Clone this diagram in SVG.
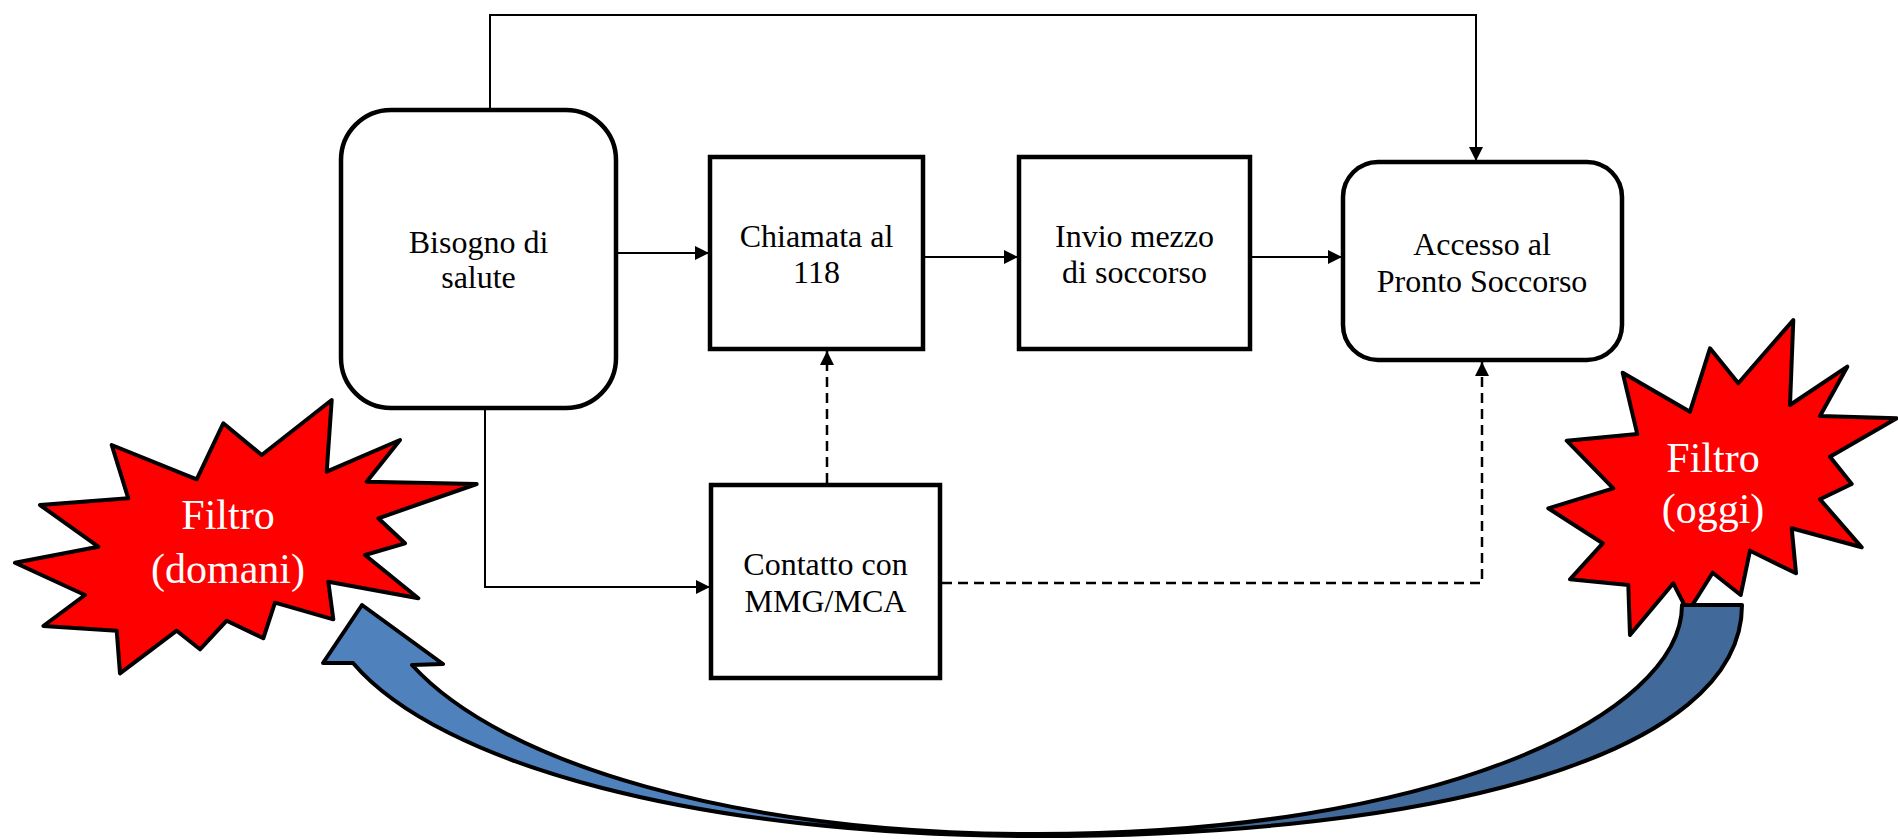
<svg xmlns="http://www.w3.org/2000/svg" width="1898" height="839" viewBox="0 0 1898 839">
  <style>
    .box { fill: #ffffff; stroke: #000000; stroke-width: 4.5; }
    .lbl { font-family: "Liberation Serif", "Times New Roman", serif; font-size: 32px; fill: #000000; text-anchor: middle; }
    .burst { fill: #ff0000; stroke: #000000; stroke-width: 4; stroke-linejoin: round; }
    .burst-lbl { font-family: "Liberation Serif", "Times New Roman", serif; font-size: 42px; fill: #ffffff; text-anchor: middle; }
    .link { fill: none; stroke: #000000; stroke-width: 2; }
    .dash { stroke-dasharray: 10 6; stroke-width: 2.5; }
  </style>
  <defs>
    <marker id="arrow" markerUnits="userSpaceOnUse" markerWidth="14" markerHeight="14" refX="14" refY="7" orient="auto">
      <path d="M0,0 L14,7 L0,14 Z" fill="#000000"/>
    </marker>
    <linearGradient id="ribbon" gradientUnits="userSpaceOnUse" x1="0" y1="0" x2="1898" y2="0">
      <stop offset="0" stop-color="#4f81bd"/>
      <stop offset="0.5464" stop-color="#4f81bd"/>
      <stop offset="0.5464" stop-color="#41699a"/>
      <stop offset="1" stop-color="#41699a"/>
    </linearGradient>
  </defs>

  <rect width="1898" height="839" fill="#ffffff"/>

  <!-- connectors -->
  <g id="connectors">
    <path class="link" d="M618 253 H709" marker-end="url(#arrow)"/>
    <path class="link" d="M925 257 H1018" marker-end="url(#arrow)"/>
    <path class="link" d="M1252 257 H1342" marker-end="url(#arrow)"/>
    <path class="link" d="M490 108 V15 H1476 V161" marker-end="url(#arrow)"/>
    <path class="link" d="M485 410 V587 H710" marker-end="url(#arrow)"/>
    <path class="link dash" d="M827 483 V351" marker-end="url(#arrow)"/>
    <path class="link dash" d="M942 583 H1482 V362" marker-end="url(#arrow)"/>
  </g>

  <!-- process boxes -->
  <g id="bisogno">
    <rect class="box" x="341" y="110" width="275" height="298" rx="50" ry="50"/>
    <text class="lbl" x="478.5" y="253">Bisogno di</text>
    <text class="lbl" x="478.5" y="288">salute</text>
  </g>
  <g id="chiamata">
    <rect class="box" x="710" y="157" width="213" height="192"/>
    <text class="lbl" x="816.5" y="247">Chiamata al</text>
    <text class="lbl" x="816.5" y="283">118</text>
  </g>
  <g id="invio">
    <rect class="box" x="1019" y="157" width="231" height="192"/>
    <text class="lbl" x="1134.5" y="247">Invio mezzo</text>
    <text class="lbl" x="1134.5" y="283">di soccorso</text>
  </g>
  <g id="accesso">
    <rect class="box" x="1343" y="162" width="279" height="198" rx="35" ry="35"/>
    <text class="lbl" x="1482" y="255">Accesso al</text>
    <text class="lbl" x="1482" y="292">Pronto Soccorso</text>
  </g>
  <g id="contatto">
    <rect class="box" x="711" y="485" width="229" height="193"/>
    <text class="lbl" x="825.5" y="575">Contatto con</text>
    <text class="lbl" x="825.5" y="612">MMG/MCA</text>
  </g>

  <!-- filter bursts -->
  <g id="filtro-domani">
    <polygon class="burst" points="331.7,400 326.7,471.7 400,440 366.7,481.7 476.7,484 378.3,518.3 405,543.3 365,555 418.3,598.3 328.3,581.7 333.3,619.3 275,602.7 263.3,638.3 226.7,620.7 200,649.3 176.7,630.7 120,673.3 116.7,630.7 43.3,626 85,595 15,562.7 98.3,546.7 40,505 128.3,498.3 111.7,445 196.7,479.3 223.3,423.3 261.7,455"/>
    <text class="burst-lbl" x="228" y="529">Filtro</text>
    <text class="burst-lbl" x="228" y="583">(domani)</text>
  </g>
  <g id="filtro-oggi">
    <polygon class="burst" points="1793.3,320 1790,405 1847.3,366.7 1820,416 1896.7,418.3 1830,456.7 1851.7,484 1820,499.3 1861.7,547.3 1791.7,528.3 1796,573.3 1750,550.7 1740.7,595 1712.7,572.7 1688,612 1673.3,583.3 1630,635 1628.3,585 1570,579.3 1602.7,543.3 1548.3,508.3 1613.3,488.3 1566.7,440.7 1637.3,434 1622.7,372.7 1690,411.7 1710,348.3 1738.3,383.3"/>
    <text class="burst-lbl" x="1713" y="472">Filtro</text>
    <text class="burst-lbl" x="1713" y="523">(oggi)</text>
  </g>

  <!-- curved arrow from today's filter back to tomorrow's -->
  <g id="curved-arrow">
    <path d="M1682 605 L1742 605 C1742 755 1437 836 1037 836 C700 836 440 765 353 663 L323 663 L362 605 L443 664 L412 665 C502 764 737 834 1037 834 C1437 834 1682 715 1682 605 Z" fill="url(#ribbon)" stroke="#000000" stroke-width="4" stroke-linejoin="round"/>
  </g>
</svg>
